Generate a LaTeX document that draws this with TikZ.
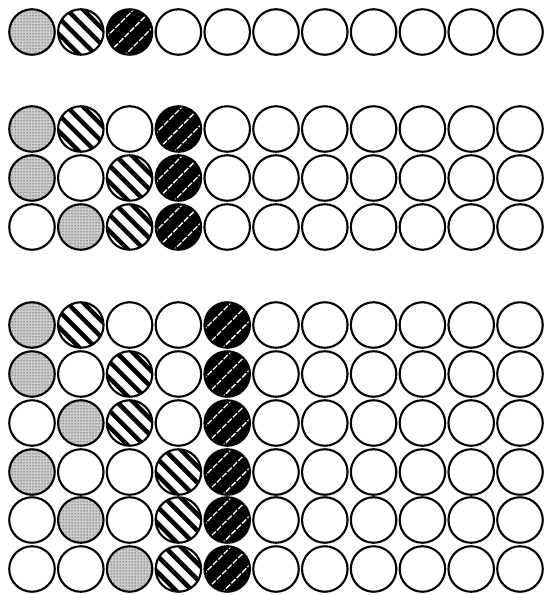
\documentclass[tikz,border=0pt]{standalone}
\usetikzlibrary{patterns}
\tikzset{
  ball/.style={circle, draw=black, line width=2.1pt, minimum size=45.5pt, inner sep=0pt},
  wc/.style={ball, fill=white},
  dc/.style={ball, fill=gray!40, path picture={
      \fill[pattern=dots, pattern color=black]
        (path picture bounding box.south west) rectangle (path picture bounding box.north east);}},
  sc/.style={ball, fill=white, path picture={
      \foreach \o in {-17,-5.5,6,17.5}
        \draw[line width=4.5pt]
          ([shift={({(\o-30)*0.7071pt},{(\o+30)*0.7071pt})}]path picture bounding box.center)
          -- ++(42.4pt,-42.4pt);}},
  bc/.style={ball, fill=black, path picture={
      \foreach \o in {-13,0,13}
        \draw[white, line width=1.3pt, dash pattern=on 6pt off 1.6pt]
          ([shift={({(-\o-30)*0.7071pt},{(\o-30)*0.7071pt})}]path picture bounding box.center)
          -- ++(42.4pt,42.4pt);}}
}
\begin{document}
\begin{tikzpicture}[x=1pt,y=1pt]
\useasboundingbox[fill=white] (0,0) rectangle (547,-595);
\foreach \yy/\dd/\ss/\bb [count=\r] in {32/0/1/2, 129/0/1/3, 178/0/2/3, 227/1/2/3,
   325/0/1/4, 374/0/2/4, 423/1/2/4, 472/0/3/4, 520/1/3/4, 569/2/3/4}{
  \foreach \i in {0,...,10}{
    \def\sty{wc}%
    \ifnum\i=\dd \def\sty{dc}\fi
    \ifnum\i=\ss \def\sty{sc}\fi
    \ifnum\i=\bb \def\sty{bc}\fi
    \node[\sty] (r\r-c\i) at ({32+48.8*\i},-\yy) {};
  }
}
\end{tikzpicture}
\end{document}
